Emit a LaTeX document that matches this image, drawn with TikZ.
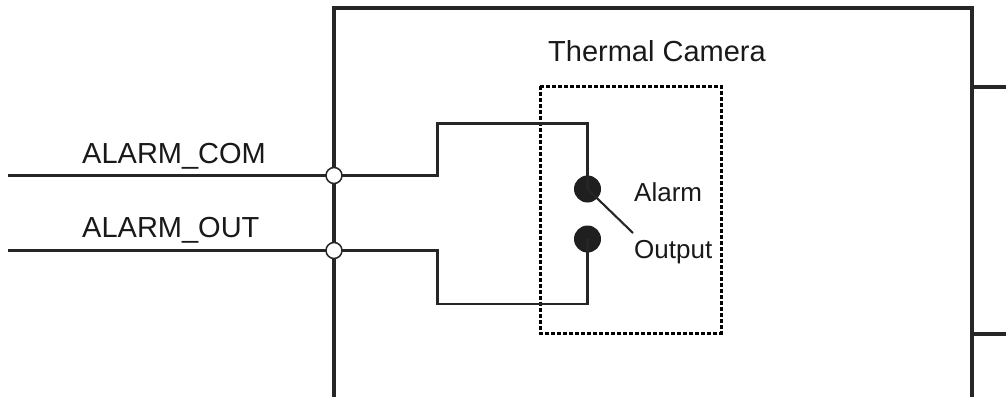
\documentclass[tikz,border=0pt]{standalone}
\usepackage{fontspec}
\setmainfont{Liberation Sans}
\begin{document}
\begin{tikzpicture}[x=1pt,y=-1pt,
  wire/.style={line width=2.1pt, draw=black!85},
  frame/.style={line width=3.1pt, draw=black!85},
  dotbox/.style={line width=3.0pt, draw=black, dash pattern=on 4pt off 2pt},
  term/.style={circle, draw=black!85, fill=white, line width=1.5pt, minimum size=16pt, inner sep=0pt},
  contact/.style={circle, fill=black!88, minimum size=27pt, inner sep=0pt},
  lbl/.style={font=\fontsize{29}{31}\selectfont, inner sep=0pt, anchor=base west, text=black!90}]
\useasboundingbox (0,0) rectangle (1006,396);
% camera frame
\draw[frame] (334,398) -- (334,8) -- (972,8) -- (972,398);
\coordinate (r1) at (972,87); \coordinate (r1e) at (1008,87);
\coordinate (r2) at (972,334); \coordinate (r2e) at (1008,334);
\draw[frame] (r1) -- (r1e);
\draw[frame] (r2) -- (r2e);
% dotted relay box
\draw[dotbox] (540,86) rectangle (721,333);
% terminals and contacts
\coordinate (comL) at (8,175.5);
\coordinate (outL) at (8,250.5);
\node[contact] (alarm) at (587.5,189) {};
\node[contact] (output) at (587.5,239) {};
% wires
\draw[wire] (comL) -- (437.5,175.5) -- (437.5,123.5) -- (587.5,123.5) -- (alarm.center);
\draw[wire] (outL) -- (437.5,250.5) -- (437.5,304) -- (587.5,304) -- (output.center);
\coordinate (sw) at (633,233);
\draw[wire] (alarm.center) -- (sw);
\node[term] (tcom) at (334,175.5) {};
\node[term] (tout) at (334,250.5) {};
% labels
\node[lbl] (tc) at (548,62) {Thermal Camera};
\node[lbl] (lcom) at (82,163) {ALARM\_COM};
\node[lbl] (lout) at (82,237.5) {ALARM\_OUT};
\node[lbl, font=\fontsize{26}{28}\selectfont] (la) at (634,201) {Alarm};
\node[lbl, font=\fontsize{26}{28}\selectfont] (lo) at (634,258) {Output};
\end{tikzpicture}
\end{document}
